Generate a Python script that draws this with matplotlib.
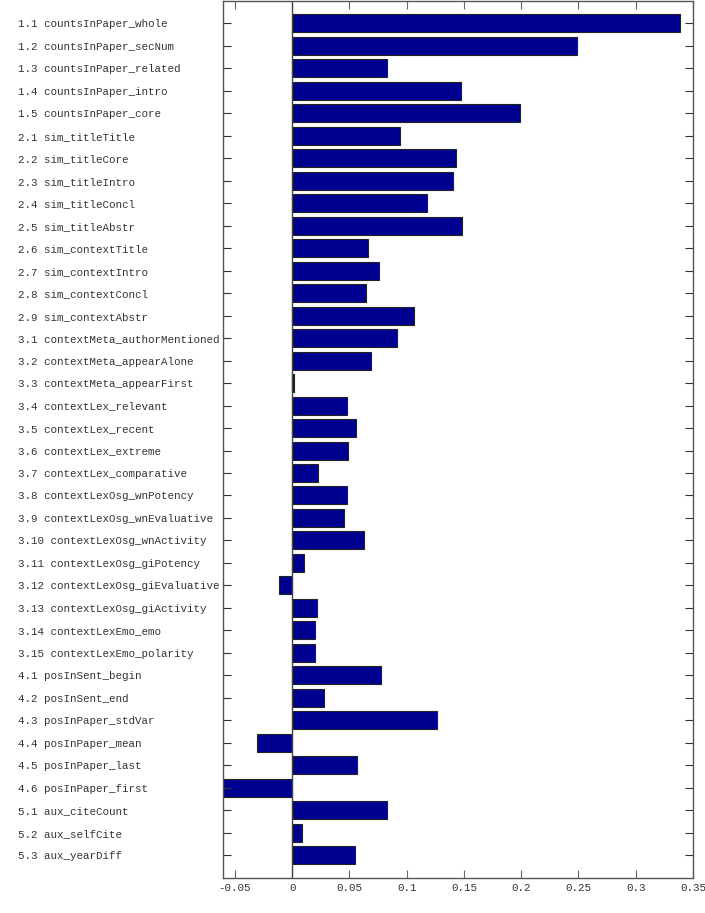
import matplotlib

matplotlib.use("Agg")
import matplotlib.pyplot as plt

labels = [
    "1.1 countsInPaper_whole", "1.2 countsInPaper_secNum", "1.3 countsInPaper_related",
    "1.4 countsInPaper_intro", "1.5 countsInPaper_core",
    "2.1 sim_titleTitle", "2.2 sim_titleCore", "2.3 sim_titleIntro", "2.4 sim_titleConcl",
    "2.5 sim_titleAbstr", "2.6 sim_contextTitle", "2.7 sim_contextIntro",
    "2.8 sim_contextConcl", "2.9 sim_contextAbstr",
    "3.1 contextMeta_authorMentioned", "3.2 contextMeta_appearAlone",
    "3.3 contextMeta_appearFirst", "3.4 contextLex_relevant", "3.5 contextLex_recent",
    "3.6 contextLex_extreme", "3.7 contextLex_comparative", "3.8 contextLexOsg_wnPotency",
    "3.9 contextLexOsg_wnEvaluative", "3.10 contextLexOsg_wnActivity",
    "3.11 contextLexOsg_giPotency", "3.12 contextLexOsg_giEvaluative",
    "3.13 contextLexOsg_giActivity", "3.14 contextLexEmo_emo", "3.15 contextLexEmo_polarity",
    "4.1 posInSent_begin", "4.2 posInSent_end", "4.3 posInPaper_stdVar",
    "4.4 posInPaper_mean", "4.5 posInPaper_last", "4.6 posInPaper_first",
    "5.1 aux_citeCount", "5.2 aux_selfCite", "5.3 aux_yearDiff",
]
values = [
    0.339, 0.2487, 0.0826, 0.147, 0.199,
    0.094, 0.143, 0.140, 0.1175, 0.148, 0.066, 0.0757, 0.0643, 0.106,
    0.0914, 0.0684, 0.0018, 0.0475, 0.0559, 0.0489, 0.0225, 0.048, 0.045,
    0.0627, 0.0105, -0.0113, 0.0213, 0.0198, 0.0198,
    0.0775, 0.0274, 0.1265, -0.0305, 0.0566, -0.065,
    0.0826, 0.0085, 0.0547,
]
xticks = [-0.05, 0, 0.05, 0.1, 0.15, 0.2, 0.25, 0.3, 0.35]
xticklabels = ["-0.05", "0", "0.05", "0.1", "0.15", "0.2", "0.25", "0.3", "0.35"]

plt.rcParams["font.family"] = ["Liberation Mono", "DejaVu Sans Mono"]

fig = plt.figure(figsize=(7.05, 9.13), dpi=100)
ax = fig.add_axes([0.317, 0.0387, 0.666, 0.9603])

pos = list(range(1, len(labels) + 1))
ax.barh(pos, values, height=0.8, color="#000090", edgecolor="#222222", linewidth=0.8)

ax.set_xlim(-0.06, 0.35)
ax.set_ylim(39, 0)
ax.set_yticks(pos)
ax.set_yticklabels(labels, fontsize=7.8, color="#333333")
for lab in ax.get_yticklabels():
    lab.set_horizontalalignment("left")
ax.set_xticks(xticks)
ax.set_xticklabels(xticklabels, fontsize=7.8, color="#333333")

ax.tick_params(axis="y", direction="in", length=6, left=True, right=True, pad=148,
               color="#333333", width=0.8)
ax.tick_params(axis="x", direction="in", length=6, top=True, bottom=True, pad=4,
               color="#666666", width=0.8)
for s in ax.spines.values():
    s.set_color("#555555")
    s.set_linewidth(1.0)
ax.axvline(0, color="#444444", linewidth=1.0)

fig.savefig("out.png", dpi=100)
